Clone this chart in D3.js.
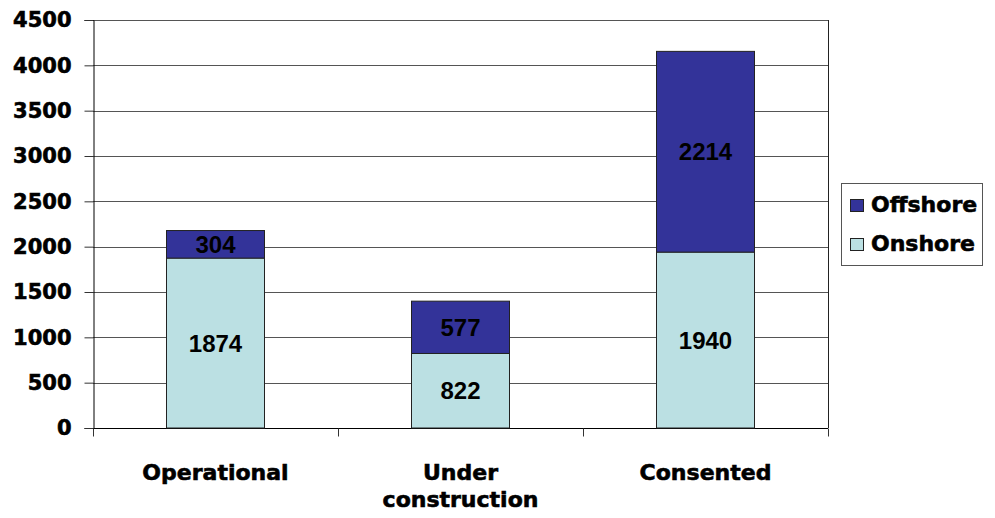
<!DOCTYPE html>
<html>
<head>
<meta charset="utf-8">
<script src="https://cdn.jsdelivr.net/npm/d3@7"></script>
<style>
  body { margin: 0; background: #fff; }
</style>
</head>
<body>
<div id="chart"></div>
<script>
var categories = [["Operational"], ["Under", "construction"], ["Consented"]];
var catKeys = ["Operational", "Under construction", "Consented"];
var onshore = [1874, 822, 1940];
var offshore = [304, 577, 2214];
var seriesNames = ["Offshore", "Onshore"];
var yTicks = [0, 500, 1000, 1500, 2000, 2500, 3000, 3500, 4000, 4500];

var width = 995, height = 518;
var margin = ({top: 20, right: 167, bottom: 90, left: 93});
var visWidth = width - margin.left - margin.right;
var visHeight = height - margin.top - margin.bottom;

var colors = {Offshore: "#333399", Onshore: "#bbe0e3"};
var axisFont = "'DejaVu Sans', sans-serif";

var x = d3.scaleBand()
    .domain(catKeys)
    .range([0, visWidth])
    .paddingInner(0.6)
    .paddingOuter(0.3);
var y = d3.scaleLinear()
    .domain([0, 4500])
    .range([visHeight, 0]);

var rows = catKeys.map((c, i) => ({cat: c, Onshore: onshore[i], Offshore: offshore[i]}));
var stacked = d3.stack().keys(["Onshore", "Offshore"])(rows);

// heavy bold look like the original
function heavy(sel, size) {
  sel.attr('font-family', axisFont)
     .attr('font-weight', 'bold')
     .attr('font-size', size)
     .attr('fill', '#000')
     .attr('stroke', '#000')
     .attr('stroke-width', 0.6);
}

function drawChart() {
  const svg = d3.select('#chart')
    .append('svg')
    .attr('width', width)
    .attr('height', height);

  const g = svg.append('g')
    .attr('transform', `translate(${margin.left}, ${margin.top})`);

  // gridlines
  g.append('g')
    .selectAll('line')
    .data(yTicks.filter(d => d > 0))
    .join('line')
      .attr('x1', 0)
      .attr('x2', visWidth)
      .attr('y1', d => Math.round(y(d)) + 0.5)
      .attr('y2', d => Math.round(y(d)) + 0.5)
      .attr('stroke', '#555')
      .attr('stroke-width', 1);

  // right border
  g.append('line')
    .attr('x1', visWidth + 0.5).attr('x2', visWidth + 0.5)
    .attr('y1', 0).attr('y2', visHeight)
    .attr('stroke', '#222');

  // y axis
  const yAxis = g.append('g')
    .attr('transform', 'translate(0.5,0)')
    .call(d3.axisLeft(y).tickValues(yTicks).tickSize(9).tickPadding(13).tickFormat(d3.format('d')));
  yAxis.select('.domain').attr('stroke', '#000');
  yAxis.selectAll('.tick line').attr('stroke', '#333');
  yAxis.selectAll('text').call(heavy, 21);

  // x axis line with boundary ticks
  const xa = g.append('g').attr('transform', `translate(0, ${visHeight + 0.5})`);
  xa.append('line')
    .attr('x1', 0).attr('x2', visWidth)
    .attr('stroke', '#000');
  const step = x.step();
  xa.selectAll('line.tk')
    .data(d3.range(catKeys.length + 1))
    .join('line')
      .attr('class', 'tk')
      .attr('x1', d => Math.round(d * step) + 0.5)
      .attr('x2', d => Math.round(d * step) + 0.5)
      .attr('y1', 0)
      .attr('y2', 8)
      .attr('stroke', '#333');

  // category labels
  xa.selectAll('text.cat')
    .data(categories)
    .join('text')
      .attr('class', 'cat')
      .attr('text-anchor', 'middle')
      .call(heavy, 22)
      .attr('transform', (d, i) => `translate(${x(catKeys[i]) + x.bandwidth() / 2}, 0)`)
      .selectAll('tspan')
      .data(d => d)
      .join('tspan')
        .attr('x', 0)
        .attr('y', (d, i) => 51 + i * 27)
        .text(d => d);

  // bars
  const layers = g.selectAll('g.layer')
    .data(stacked)
    .join('g')
      .attr('class', 'layer')
      .attr('fill', d => colors[d.key]);

  layers.selectAll('rect')
    .data(d => d)
    .join('rect')
      .attr('x', d => x(d.data.cat))
      .attr('y', d => y(d[1]))
      .attr('width', x.bandwidth())
      .attr('height', d => y(d[0]) - y(d[1]))
      .attr('stroke', '#222')
      .attr('stroke-width', 1);

  layers.selectAll('text')
    .data(d => d)
    .join('text')
      .attr('x', d => x(d.data.cat) + x.bandwidth() / 2)
      .attr('y', d => (y(d[0]) + y(d[1])) / 2)
      .attr('dy', '0.36em')
      .attr('text-anchor', 'middle')
      .attr('font-family', "'Liberation Sans', Arial, sans-serif")
      .attr('font-weight', 'bold')
      .attr('font-size', 24)
      .attr('fill', '#000')
      .text(d => d[1] - d[0]);

  // legend
  const legend = svg.append('g').attr('transform', 'translate(841, 183)');
  legend.append('rect')
    .attr('x', 0.5).attr('y', 0.5)
    .attr('width', 141).attr('height', 82)
    .attr('fill', '#fff')
    .attr('stroke', '#555');
  const items = legend.selectAll('g.item')
    .data(seriesNames)
    .join('g')
      .attr('class', 'item')
      .attr('transform', (d, i) => `translate(9, ${16 + i * 39})`);
  items.append('rect')
    .attr('x', 0.5).attr('y', 0.5)
    .attr('width', 13).attr('height', 12)
    .attr('fill', d => colors[d])
    .attr('stroke', '#222');
  items.append('text')
    .attr('x', 21)
    .attr('y', 13)
    .call(heavy, 22)
    .text(d => d);

  return svg.node();
}

drawChart();
</script>
</body>
</html>
